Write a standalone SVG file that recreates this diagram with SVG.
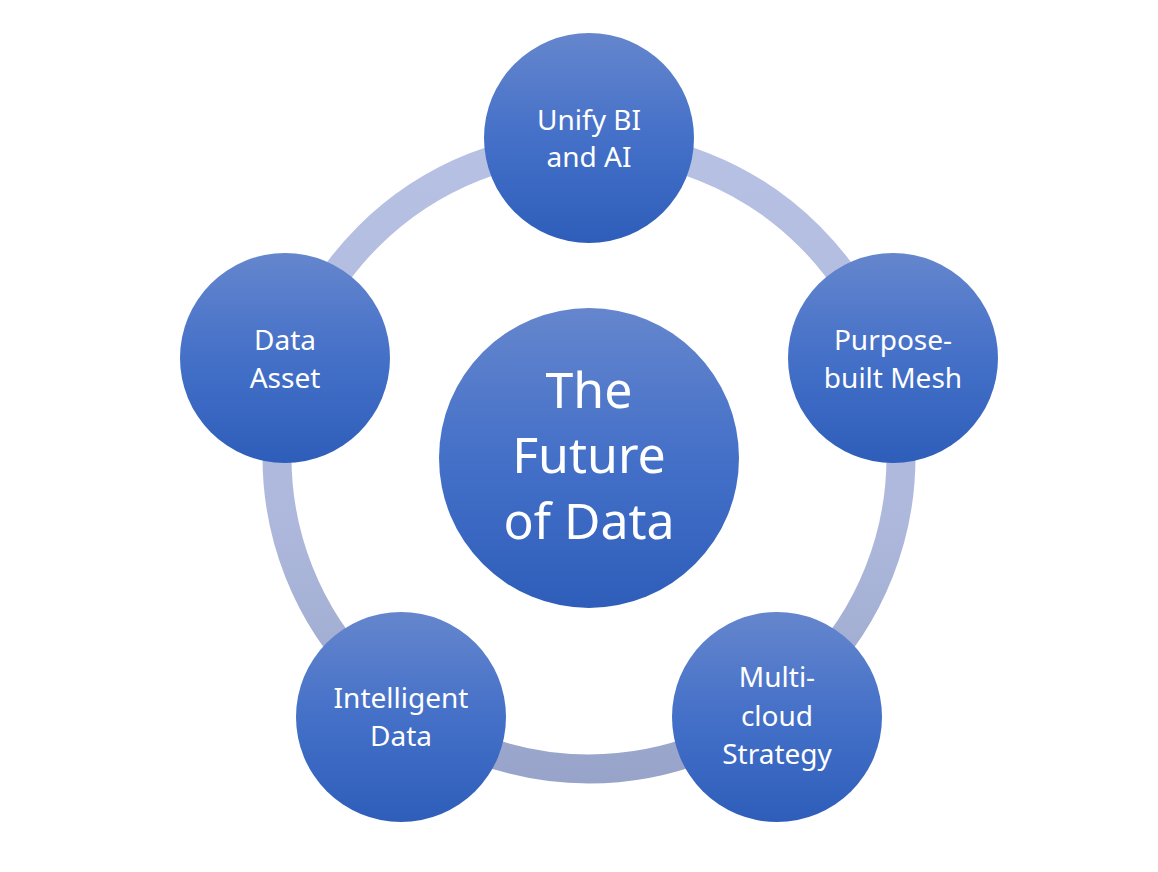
<svg xmlns="http://www.w3.org/2000/svg" width="1158" height="872" viewBox="0 0 1158 872">
  <defs>
    <linearGradient id="nodeGrad" x1="0" y1="0" x2="0" y2="1">
      <stop offset="0" stop-color="#6586cd"/>
      <stop offset="0.5" stop-color="#4470c8"/>
      <stop offset="1" stop-color="#2e5eba"/>
    </linearGradient>
    <linearGradient id="ringGrad" gradientUnits="userSpaceOnUse" x1="0" y1="131" x2="0" y2="783">
      <stop offset="0" stop-color="#b7c1e4"/>
      <stop offset="0.6" stop-color="#adb8dc"/>
      <stop offset="1" stop-color="#97a3c9"/>
    </linearGradient>
    <style>
      .node { fill: url(#nodeGrad); }
      .lbl { fill: #ffffff; font-family: "Noto Sans", "Open Sans", sans-serif; font-size: 28px; text-anchor: middle; }
      .big { fill: #ffffff; font-family: "Noto Sans", "Open Sans", sans-serif; font-size: 50px; text-anchor: middle; }
    </style>
  </defs>
  <rect width="1158" height="872" fill="#ffffff"/>
  <g id="connectors">
    <circle cx="589" cy="457" r="312" fill="none" stroke="url(#ringGrad)" stroke-width="29"/>
  </g>
  <g id="center">
    <circle class="node" cx="589" cy="458" r="150"/>
    <text class="big" x="589" y="408">The</text>
    <text class="big" x="589" y="473">Future</text>
    <text class="big" x="589" y="539">of Data</text>
  </g>
  <g id="unify">
    <circle class="node" cx="589" cy="138" r="105"/>
    <text class="lbl" x="589" y="130">Unify BI</text>
    <text class="lbl" x="589" y="167">and AI</text>
  </g>
  <g id="purpose">
    <circle class="node" cx="893" cy="358" r="105"/>
    <text class="lbl" x="893" y="350">Purpose-</text>
    <text class="lbl" x="893" y="388">built Mesh</text>
  </g>
  <g id="multicloud">
    <circle class="node" cx="777" cy="717" r="105"/>
    <text class="lbl" x="777" y="687">Multi-</text>
    <text class="lbl" x="777" y="726">cloud</text>
    <text class="lbl" x="777" y="764">Strategy</text>
  </g>
  <g id="intelligent">
    <circle class="node" cx="401" cy="717" r="105"/>
    <text class="lbl" x="401" y="708">Intelligent</text>
    <text class="lbl" x="401" y="746">Data</text>
  </g>
  <g id="asset">
    <circle class="node" cx="285" cy="358" r="105"/>
    <text class="lbl" x="285" y="350">Data</text>
    <text class="lbl" x="285" y="388">Asset</text>
  </g>
</svg>
